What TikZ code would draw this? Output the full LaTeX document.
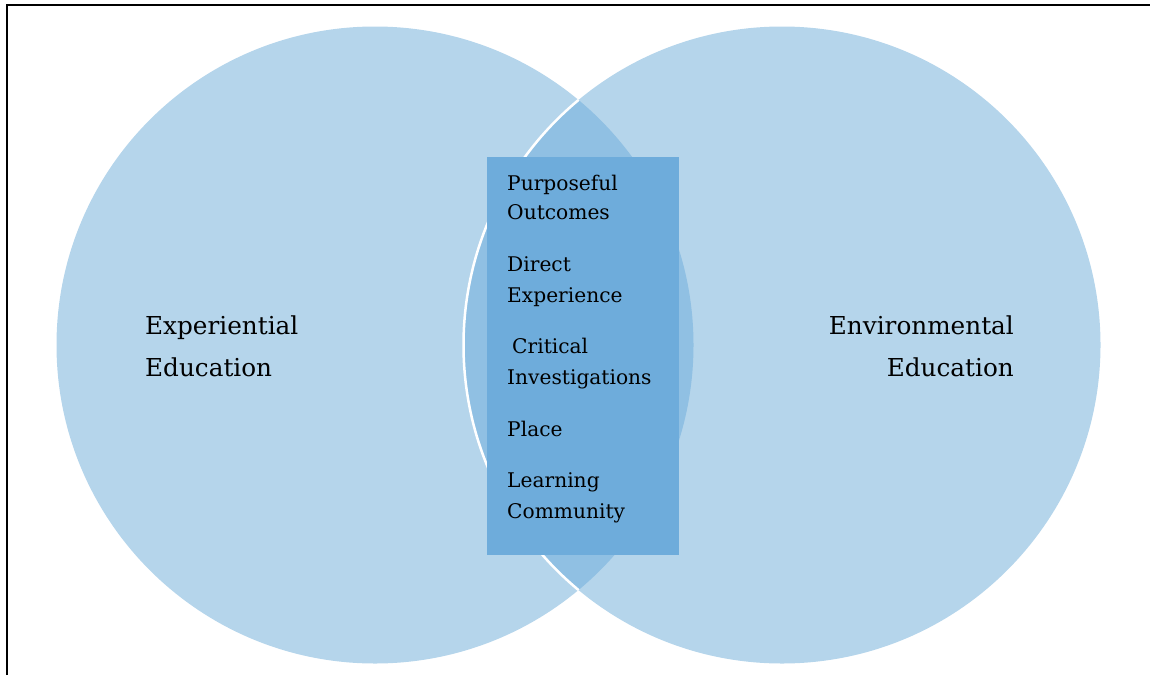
\documentclass[tikz,border=0pt]{standalone}
\usepackage{fontspec}
\setmainfont{DejaVu Serif}
\definecolor{circ}{RGB}{181,213,235}
\definecolor{lens}{RGB}{144,192,227}
\definecolor{boxc}{RGB}{110,172,219}
\begin{document}
\begin{tikzpicture}[x=1pt,y=-1pt,
  big/.style={inner sep=0pt, font=\fontsize{24.7}{30}\selectfont},
  small/.style={inner sep=0pt, anchor=base west, font=\fontsize{20.2}{24}\selectfont},
  venn/.style={circle, fill=circ, inner sep=0pt, minimum size=637pt}]
\useasboundingbox (0,0) rectangle (1150,675);
\draw[line width=2.4pt] (7,675) -- (7,5) -- (1150,5);
\node[venn] (L) at (375,345) {};
\node[venn] (R) at (782,345) {};
\begin{scope}
  \clip (375,345) circle[radius=318.5];
  \fill[lens] (782,345) circle[radius=318.5];
  \draw[white, line width=2.5pt] (782,345) circle[radius=318.5];
\end{scope}
\node[fill=boxc, minimum width=192pt, minimum height=398pt, inner sep=0pt] (B) at (583,356) {};
\node[big, anchor=base west] (l1) at (145,334) {Experiential};
\node[big, anchor=base west] (l2) at (145,376) {Education};
\node[big, anchor=base east] (r1) at (1014,334) {Environmental};
\node[big, anchor=base east] (r2) at (1014,376) {Education};
\node[small] (t1) at (507,190) {Purposeful};
\node[small] (t2) at (507,219) {Outcomes};
\node[small] (t3) at (507,271) {Direct};
\node[small] (t4) at (507,302) {Experience};
\node[small] (t5) at (512,353) {Critical};
\node[small] (t6) at (507,384) {Investigations};
\node[small] (t7) at (507,436) {Place};
\node[small] (t8) at (507,487) {Learning};
\node[small] (t9) at (507,518) {Community};
\end{tikzpicture}
\end{document}
